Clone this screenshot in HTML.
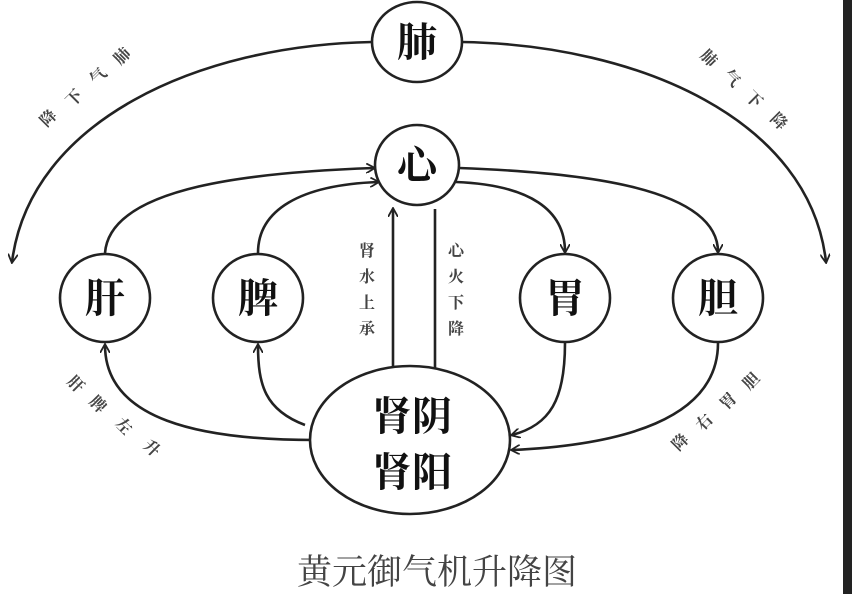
<html><body style="margin:0;background:#fff">
<svg width="852" height="594" viewBox="0 0 852 594" xmlns="http://www.w3.org/2000/svg" style="font-family:'Liberation Serif','Noto Serif CJK SC',serif">
<defs><marker id="a" markerWidth="10" markerHeight="10" refX="8" refY="5" orient="auto" markerUnits="userSpaceOnUse"><path d="M0,0 L9,5 L0,10" fill="none" stroke="#222" stroke-width="1.8"/></marker></defs>
<rect x="843" y="0" width="9" height="594" fill="#222"/>
<g fill="none" stroke="#222" stroke-width="2.6">
<path d="M372,42 C200,45 30,120 12,262" marker-end="url(#a)"/>
<path d="M462,42 C640,45 810,120 826,262" marker-end="url(#a)"/>
<path d="M105,253 C110,185 260,172 374,168" marker-end="url(#a)"/>
<path d="M258,253 C258,210 300,185 378,182" marker-end="url(#a)"/>
<path d="M459,168 C570,172 718,185 718,252" marker-end="url(#a)"/>
<path d="M456,182 C530,185 565,210 565,252" marker-end="url(#a)"/>
<path d="M393,368 L393,209" marker-end="url(#a)"/>
<path d="M435,209 L435,382" marker-end="url(#a)"/>
<path d="M315,440 C200,440 105,420 105,345" marker-end="url(#a)"/>
<path d="M305,425 C265,410 258,385 258,345" marker-end="url(#a)"/>
<path d="M565,343 C565,400 550,425 512,435" marker-end="url(#a)"/>
<path d="M718,343 C718,420 620,445 512,450" marker-end="url(#a)"/>
</g>
<g fill="#fff" stroke="#222" stroke-width="2.6">
<ellipse cx="417" cy="42" rx="45" ry="40"/>
<ellipse cx="417" cy="165" rx="42" ry="40"/>
<ellipse cx="105" cy="298" rx="45" ry="44"/>
<ellipse cx="258" cy="298" rx="45" ry="44"/>
<ellipse cx="565" cy="298" rx="45" ry="44"/>
<ellipse cx="718" cy="298" rx="45" ry="44"/>
<ellipse cx="410" cy="440" rx="100" ry="74"/>
</g>
<g font-size="40" text-anchor="middle" fill="#111" font-weight="bold">
<text x="417" y="56">肺</text><text x="417" y="179">心</text>
<text x="105" y="312">肝</text><text x="258" y="312">脾</text>
<text x="565" y="312">胃</text><text x="718" y="312">胆</text>
<text x="412" y="430">肾阴</text><text x="412" y="486">肾阳</text>
</g>
<g font-size="16" fill="#444" text-anchor="middle" font-weight="bold">
<text x="367" y="256">肾</text><text x="367" y="282">水</text><text x="367" y="308">上</text><text x="367" y="334">承</text>
<text x="456" y="256">心</text><text x="456" y="282">火</text><text x="456" y="308">下</text><text x="456" y="334">降</text>
<text x="126" y="60" transform="rotate(-45 126 60)">肺</text><text x="102" y="80" transform="rotate(-45 102 80)">气</text><text x="78" y="102" transform="rotate(-45 78 102)">下</text><text x="52" y="122" transform="rotate(-45 52 122)">降</text>
<text x="705" y="62" transform="rotate(45 705 62)">肺</text><text x="728" y="82" transform="rotate(45 728 82)">气</text><text x="750" y="103" transform="rotate(45 750 103)">下</text><text x="775" y="125" transform="rotate(45 775 125)">降</text>
<text x="72" y="388" transform="rotate(45 72 388)">肝</text><text x="94" y="408" transform="rotate(45 94 408)">脾</text><text x="120" y="430" transform="rotate(45 120 430)">左</text><text x="148" y="452" transform="rotate(45 148 452)">升</text>
<text x="755" y="385" transform="rotate(-45 755 385)">胆</text><text x="732" y="405" transform="rotate(-45 732 405)">胃</text><text x="708" y="426" transform="rotate(-45 708 426)">右</text><text x="684" y="446" transform="rotate(-45 684 446)">降</text>
</g>
<text x="437" y="584" font-size="35" text-anchor="middle" fill="#444">黄元御气机升降图</text>
</svg>
</body></html>
